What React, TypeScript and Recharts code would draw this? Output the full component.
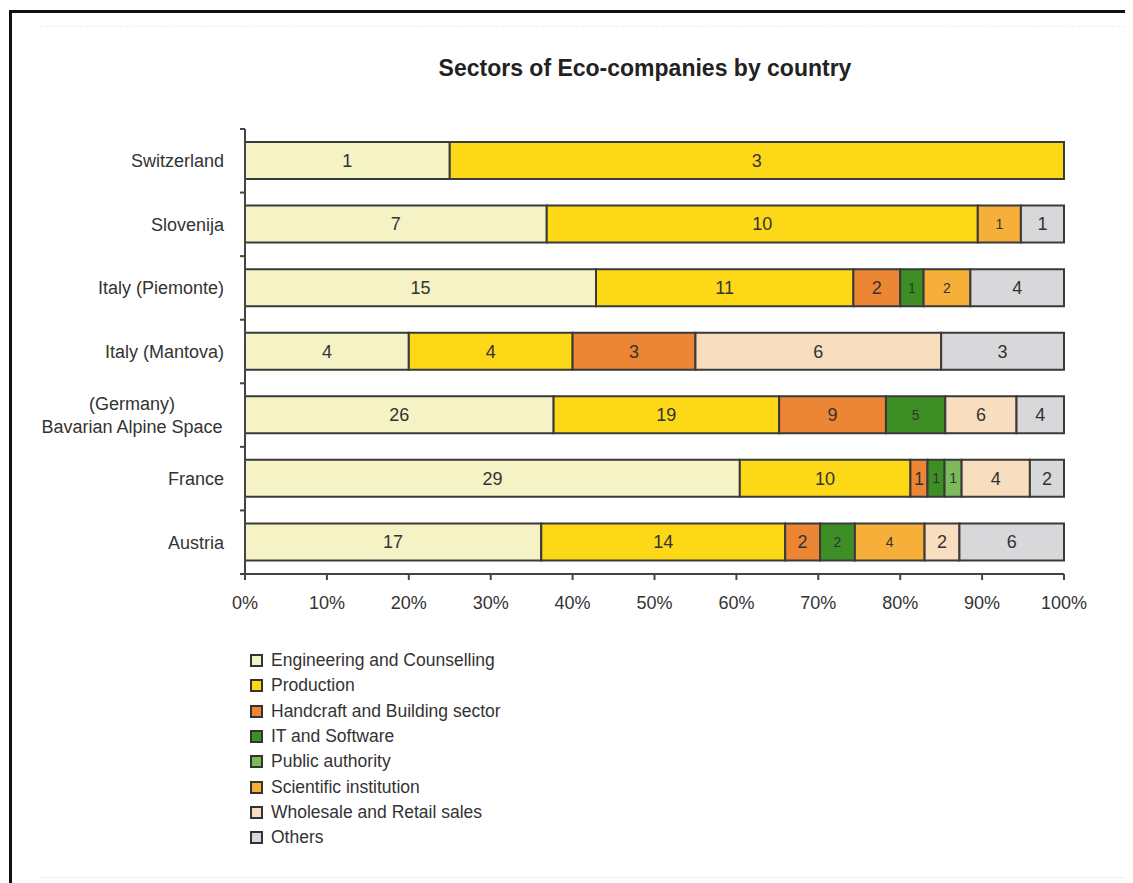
import { BarChart, Bar, XAxis, YAxis, LabelList } from 'recharts';

const countries = [
  'Switzerland',
  'Slovenija',
  'Italy (Piemonte)',
  'Italy (Mantova)',
  '(Germany)\nBavarian Alpine Space',
  'France',
  'Austria',
];

const engineering = [1, 7, 15, 4, 26, 29, 17];
const production = [3, 10, 11, 4, 19, 10, 14];
const handcraft = [0, 0, 2, 3, 9, 1, 2];
const itSoftware = [0, 0, 1, 0, 5, 1, 2];
const publicAuthority = [0, 0, 0, 0, 0, 1, 0];
const scientific = [0, 1, 2, 0, 0, 0, 4];
const wholesale = [0, 0, 0, 6, 6, 4, 2];
const others = [0, 1, 4, 3, 4, 2, 6];

const xTicks = [0, 0.1, 0.2, 0.3, 0.4, 0.5, 0.6, 0.7, 0.8, 0.9, 1];

const series = [
  { key: 'eng', name: 'Engineering and Counselling', color: '#f5f2c6', values: engineering, small: false },
  { key: 'prod', name: 'Production', color: '#fdd817', values: production, small: false },
  { key: 'hand', name: 'Handcraft and Building sector', color: '#ec8534', values: handcraft, small: false },
  { key: 'it', name: 'IT and Software', color: '#3e8e26', values: itSoftware, small: true },
  { key: 'pub', name: 'Public authority', color: '#7dbb5a', values: publicAuthority, small: true },
  { key: 'sci', name: 'Scientific institution', color: '#f6b03a', values: scientific, small: true },
  { key: 'whole', name: 'Wholesale and Retail sales', color: '#f9ddbf', values: wholesale, small: false },
  { key: 'oth', name: 'Others', color: '#d8d8da', values: others, small: false },
];

const data = countries.map((country, i) => {
  const row: Record<string, string | number> = { country };
  series.forEach((s) => {
    row[s.key] = s.values[i];
  });
  return row;
});

const FONT = 'Arial, "Liberation Sans", Helvetica, sans-serif';
const TOP = 121;
const BOTTOM = 566;
const BAND = (BOTTOM - TOP) / countries.length;
const GAP = 21;

const CountryTick = (props: any) => {
  const { x, y, payload, index } = props;
  const axisX = x + GAP;
  const lines = String(payload.value).split('\n');
  const yTop = y - BAND / 2;
  return (
    <g>
      <line x1={axisX - 5} y1={yTop} x2={axisX} y2={yTop} stroke="#444" strokeWidth={2} />
      {index === countries.length - 1 && (
        <line x1={axisX - 5} y1={y + BAND / 2} x2={axisX} y2={y + BAND / 2} stroke="#444" strokeWidth={2} />
      )}
      {lines.length === 1 ? (
        <text x={x} y={y} dy="0.36em" textAnchor="end" fontSize={18} fill="#333" fontFamily={FONT}>
          {lines[0]}
        </text>
      ) : (
        lines.map((line, i) => (
          <text
            key={i}
            x={x - 92}
            y={y + (i - (lines.length - 1) / 2) * 23}
            dy="0.36em"
            textAnchor="middle"
            fontSize={18}
            fill="#333"
            fontFamily={FONT}
          >
            {line}
          </text>
        ))
      )}
    </g>
  );
};

export default function App() {
  return (
    <div style={{ position: 'relative', width: 1125, height: 875, overflow: 'hidden', background: '#fff' }}>
      <div
        style={{
          position: 'absolute',
          left: 1,
          top: 2,
          width: 2000,
          height: 2000,
          borderLeft: '3px solid #111',
          borderTop: '3px solid #111',
        }}
      />
      <div style={{ position: 'absolute', left: 32, top: 18, width: 1090, borderTop: '1px dashed #eee' }} />
      <div style={{ position: 'absolute', left: 32, top: 869, width: 1090, borderTop: '1px solid #eee' }} />
      <div
        style={{
          position: 'absolute',
          left: 0,
          top: 47,
          width: 1274,
          textAlign: 'center',
          fontFamily: FONT,
          fontWeight: 'bold',
          fontSize: 23,
          color: '#222',
        }}
      >
        Sectors of Eco-companies by country
      </div>
      <div style={{ position: 'absolute', left: 0, top: 0 }}>
        <BarChart
          width={1125}
          height={875}
          data={data}
          layout="vertical"
          stackOffset="expand"
          margin={{ top: TOP, right: 69, bottom: 269, left: 7 }}
        >
          <XAxis
            type="number"
            domain={[0, 1]}
            ticks={xTicks}
            tickFormatter={(v: number) => `${Math.round(v * 100)}%`}
            axisLine={{ stroke: '#444', strokeWidth: 2 }}
            tickLine={{ stroke: '#444', strokeWidth: 2 }}
            tickSize={6}
            tickMargin={16}
            height={40}
            tick={{ fill: '#333', fontSize: 18, fontFamily: FONT }}
          />
          <YAxis
            type="category"
            dataKey="country"
            width={230}
            axisLine={{ stroke: '#444', strokeWidth: 2 }}
            tickLine={false}
            tickSize={0}
            tickMargin={GAP}
            tick={<CountryTick />}
            interval={0}
          />
          {series.map((s) => (
            <Bar
              key={s.key}
              dataKey={s.key}
              name={s.name}
              stackId="a"
              fill={s.color}
              stroke="#3a3a3a"
              strokeWidth={2}
              barSize={37}
              isAnimationActive={false}
            >
              <LabelList
                dataKey={s.key}
                position="center"
                formatter={(v: any) => (v ? v : '')}
                fill="#333"
                fontSize={s.small ? 14 : 18}
                fontFamily={FONT}
              />
            </Bar>
          ))}
        </BarChart>
      </div>
      <div style={{ position: 'absolute', left: 242, top: 640, fontFamily: FONT, fontSize: 17.5, color: '#333' }}>
        {series.map((s) => (
          <div key={s.key} style={{ display: 'flex', alignItems: 'center', height: 25.3 }}>
            <span
              style={{
                display: 'inline-block',
                width: 9,
                height: 9,
                background: s.color,
                border: '2px solid #333',
                marginRight: 8,
              }}
            />
            {s.name}
          </div>
        ))}
      </div>
    </div>
  );
}
